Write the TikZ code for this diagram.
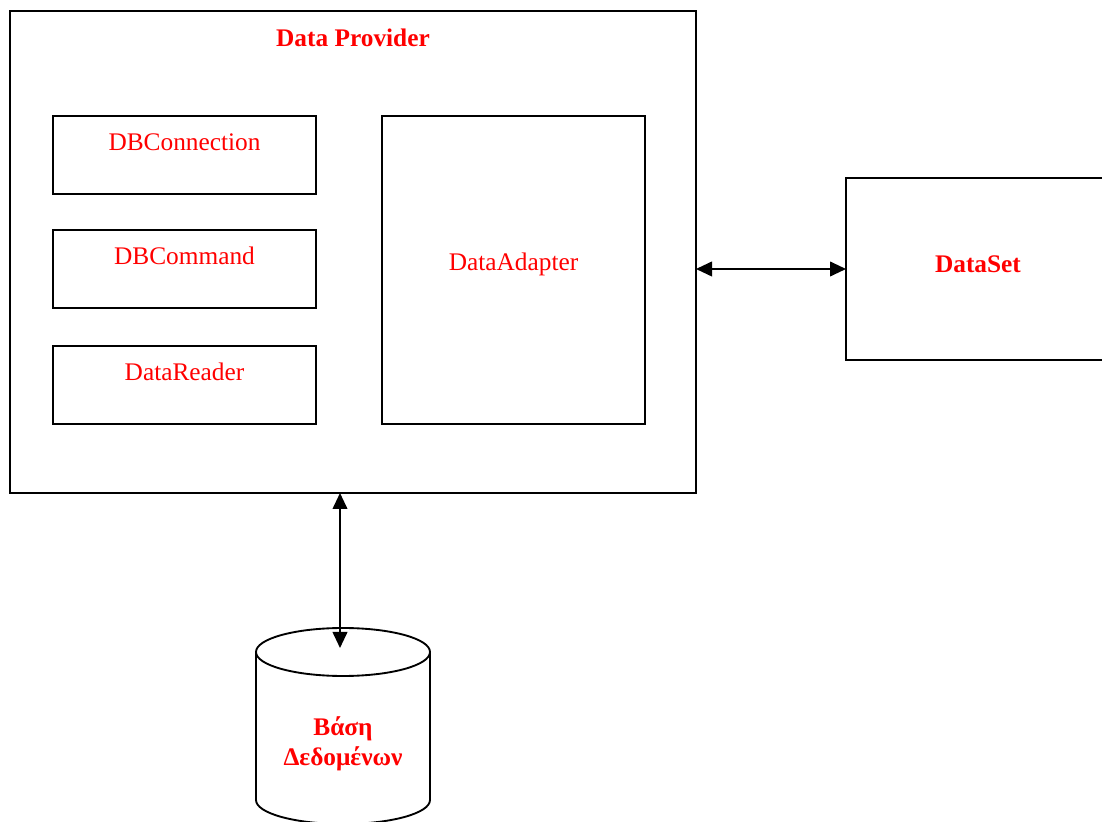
\documentclass[tikz,border=0pt]{standalone}
\usepackage{fontspec}
\setmainfont{Liberation Serif}
\usetikzlibrary{arrows.meta,positioning}
\definecolor{lblred}{RGB}{255,0,0}
\tikzset{
    box/.style={draw, line width=1.4pt, inner sep=0, outer sep=0},
    compbox/.style={box, minimum width=197.25pt, minimum height=58.5pt},
    lbl/.style={text=lblred, font=\fontsize{19}{22.5}\selectfont, inner sep=0, align=center},
    bothway/.style={line width=1.4pt, {Triangle[length=12pt,width=11pt]}-{Triangle[length=12pt,width=11pt]}}
}
\begin{document}
\begin{tikzpicture}[x=0.75pt, y=0.75pt]
        \useasboundingbox (0,0) rectangle (1102,821);
        % provider and its parts
        \node[box, minimum width=514.5pt, minimum height=361.5pt] (prov) at (353,569) {};
        \node[lbl, font=\fontsize{19}{22.5}\selectfont\bfseries] (provtitle) at (353,783) {Data Provider};
        \node[compbox] (conn) at (184.5,666) {};
        \node[compbox] (cmd) at (184.5,552) {};
        \node[compbox] (reader) at (184.5,436) {};
        \node[box, minimum width=197.25pt, minimum height=231pt] (adapter) at (513.5,551) {};
        \node[lbl] (conntext) at (184.5,679) {DBConnection};
        \node[lbl] (cmdtext) at (184.5,565) {DBCommand};
        \node[lbl] (readertext) at (184.5,449) {DataReader};
        \node[lbl] (adaptertext) at (513.5,557) {DataAdapter};
        % dataset
        \node[box, minimum width=198pt, minimum height=136.5pt] (ds) at (978,552) {};
        \node[lbl, font=\fontsize{19}{22.5}\selectfont\bfseries] (dstext) at (978,557) {DataSet};
        % database
        \draw [line width=1.4pt] (256,169) -- (256,21) arc[start angle=180, end angle=360, x radius=87, y radius=24] -- (430,169);
        \draw [line width=1.4pt] (343,169) ellipse [x radius=87, y radius=24];
        \coordinate (dbtop) at (340,173);
        \node[lbl, font=\fontsize{19}{22.5}\selectfont\bfseries] (dbtext) at (343,77) {Βάση\\Δεδομένων};
        % links
        \draw [bothway] (ds.west -| prov.east) -- (ds.west);
        \draw [bothway] (prov.south -| dbtop) -- (dbtop);
    \end{tikzpicture}
\end{document}
